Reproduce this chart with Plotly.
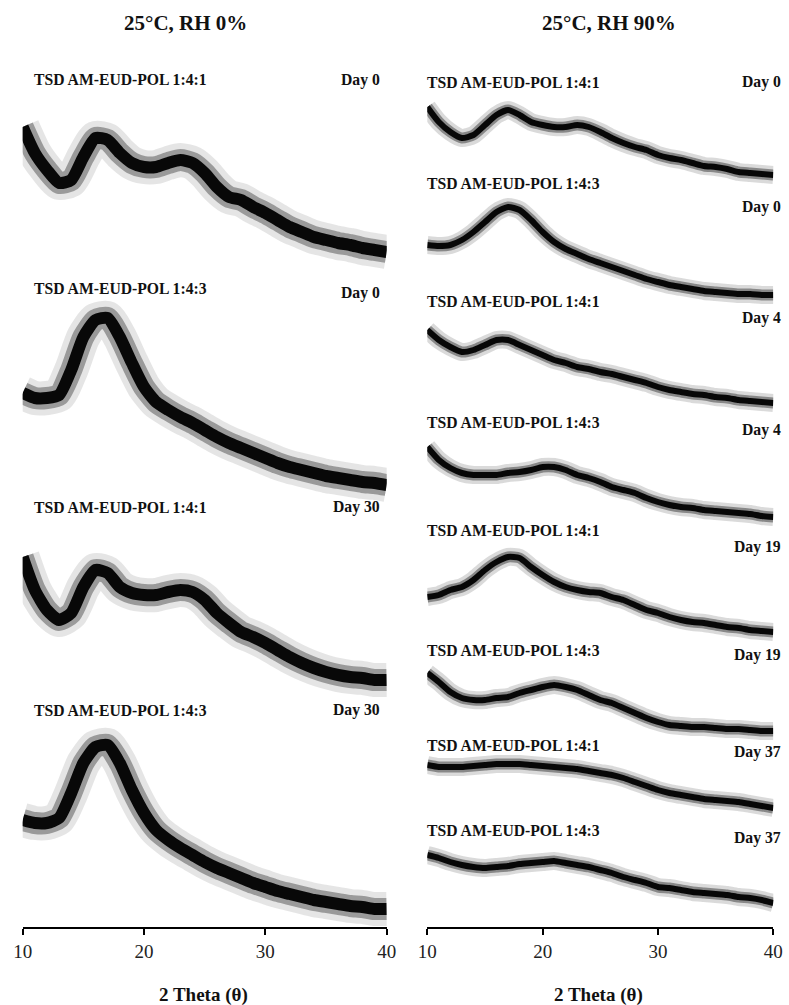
import plotly.graph_objects as go

# 2-theta grid (degrees)
two_theta = list(range(10, 41))

# Intensities (a.u.), 25 C / RH 0 %
rh0_141_day0 = [128,102,85,72,75,98,117,115,102,92,88,88,92,95,92,82,68,58,55,48,42,35,28,23,18,15,12,10,7,5,3]
rh0_143_day0 = [95,90,90,93,118,151,168,170,151,125,101,86,78,71,65,58,51,45,40,35,30,25,21,18,15,12,10,8,6,5,3]
rh0_141_day30 = [126,93,73,63,70,96,113,110,96,90,88,88,91,93,91,83,70,60,51,46,40,33,26,20,15,11,8,6,5,3,3]
rh0_143_day30 = [92,89,89,94,119,149,165,167,149,122,99,82,72,64,57,50,44,39,34,29,25,21,18,15,12,10,8,6,5,3,3]

# Intensities (a.u.), 25 C / RH 90 %
rh90_141_day0 = [71,56,46,40,43,53,63,68,63,56,53,51,51,53,51,46,40,35,31,28,23,20,18,15,12,11,9,6,5,4,3]
rh90_143_day0 = [53,52,53,58,66,76,86,91,88,78,66,56,49,44,39,35,31,27,23,19,16,13,11,9,7,6,5,4,4,3,3]
rh90_141_day4 = [76,66,59,54,56,61,66,66,61,56,51,46,43,39,37,34,32,29,26,23,19,16,14,12,11,9,8,6,5,4,3]
rh90_143_day4 = [73,60,52,47,45,45,45,47,48,50,53,53,50,45,42,38,33,30,27,22,18,15,13,12,10,9,8,7,6,4,3]
rh90_141_day19 = [38,40,45,48,55,65,73,78,77,68,60,53,48,45,43,42,38,35,30,25,22,18,15,13,12,10,8,7,5,4,3]
rh90_143_day19 = [61,52,42,36,34,34,36,37,41,44,47,49,47,44,39,34,31,26,21,16,12,9,8,7,7,6,5,5,4,3,3]
rh90_141_day37 = [46,44,44,44,45,46,47,47,47,46,45,44,43,42,40,38,36,33,29,25,21,18,16,14,12,11,10,9,7,5,3]
rh90_143_day37 = [51,48,44,41,39,38,39,40,42,43,44,45,43,41,39,36,33,29,26,23,19,18,16,14,13,12,11,9,8,6,3]

sample_names = ["TSD AM-EUD-POL 1:4:1", "TSD AM-EUD-POL 1:4:3"]
left_days = ["Day 0", "Day 0", "Day 30", "Day 30"]
right_days = ["Day 0", "Day 0", "Day 4", "Day 4", "Day 19", "Day 19", "Day 37", "Day 37"]
col_titles = ["25°C, RH 0%", "25°C, RH 90%"]
x_title = "2 Theta (θ)"
x_ticks = [10, 20, 30, 40]

left_series = [rh0_141_day0, rh0_143_day0, rh0_141_day30, rh0_143_day30]
right_series = [rh90_141_day0, rh90_143_day0, rh90_141_day4, rh90_143_day4,
                rh90_141_day19, rh90_143_day19, rh90_141_day37, rh90_143_day37]

# ---- layout / style (stacking offsets in axis units) ----
W, H = 789, 1005
AXIS_PX = 927
left_offsets = [672, 439, 244, 15]
right_offsets = [749, 629, 521, 407, 292, 193, 116, 21]
left_label_y = [(80, 80), (288, 293), (507, 507), (710, 710)]
right_label_y = [(82, 82), (183, 207), (302, 318), (422, 430),
                 (530, 547), (650, 655), (745, 752), (830, 838)]

FONT = "Liberation Serif, Times New Roman, serif"

fig = go.Figure()


def add_pattern(xa, ya, ys, off, wide):
    yy = [v + off for v in ys]
    if wide:
        layers = [(34, "rgba(150,150,150,0.25)"), (22, "rgba(80,80,80,0.50)"), (12, "rgba(0,0,0,0.95)")]
    else:
        layers = [(18, "rgba(150,150,150,0.35)"), (11, "rgba(70,70,70,0.55)"), (6, "rgba(0,0,0,0.95)")]
    for w, c in layers:
        fig.add_trace(go.Scatter(x=two_theta, y=yy, mode="lines", xaxis=xa, yaxis=ya,
                                 line=dict(color=c, width=w, shape="spline", smoothing=0.6),
                                 hoverinfo="skip", showlegend=False))


for s, off in zip(left_series, left_offsets):
    add_pattern("x", "y", s, off, True)
for s, off in zip(right_series, right_offsets):
    add_pattern("x2", "y2", s, off, False)

ydom = [1 - AXIS_PX / H, 1]
xcommon = dict(range=[10, 40], tickvals=x_ticks, showline=True, linecolor="black", linewidth=1.5,
               ticks="outside", ticklen=6, tickwidth=1.5, tickcolor="black", showgrid=False,
               zeroline=False, automargin=False, ticklabelstandoff=0,
               tickfont=dict(family=FONT, size=19, color="#222"))
fig.update_layout(
    width=W, height=H, margin=dict(l=0, r=0, t=0, b=0, autoexpand=False),
    paper_bgcolor="white", plot_bgcolor="white",
    xaxis=dict(domain=[22.7 / W, 386.7 / W], anchor="y", **xcommon),
    xaxis2=dict(domain=[427.3 / W, 773.3 / W], anchor="y2", **xcommon),
    yaxis=dict(domain=ydom, range=[0, AXIS_PX], visible=False, anchor="x", automargin=False),
    yaxis2=dict(domain=ydom, range=[0, AXIS_PX], visible=False, anchor="x2", automargin=False),
    showlegend=False,
)

ann = []


def A(text, px, py, xanchor="center", size=15.7, bold=True):
    ann.append(dict(text=f"<b>{text}</b>" if bold else text, x=px / W, y=1 - py / H,
                    xref="paper", yref="paper", xanchor=xanchor, yanchor="middle",
                    showarrow=False, font=dict(family=FONT, size=size, color="#111")))


A(col_titles[0], 185, 23, size=21)
A(col_titles[1], 609, 23, size=21)
A(x_title, 203, 995, size=19)
A(x_title, 598, 995, size=19)

for i, (ly, dy) in enumerate(left_label_y):
    A(sample_names[i % 2], 32, ly, "left")
    A(left_days[i], 382, dy, "right")
for i, (ly, dy) in enumerate(right_label_y):
    A(sample_names[i % 2], 425, ly, "left")
    A(right_days[i], 783, dy, "right")

fig.update_layout(annotations=ann)
fig.write_html("out.html")
